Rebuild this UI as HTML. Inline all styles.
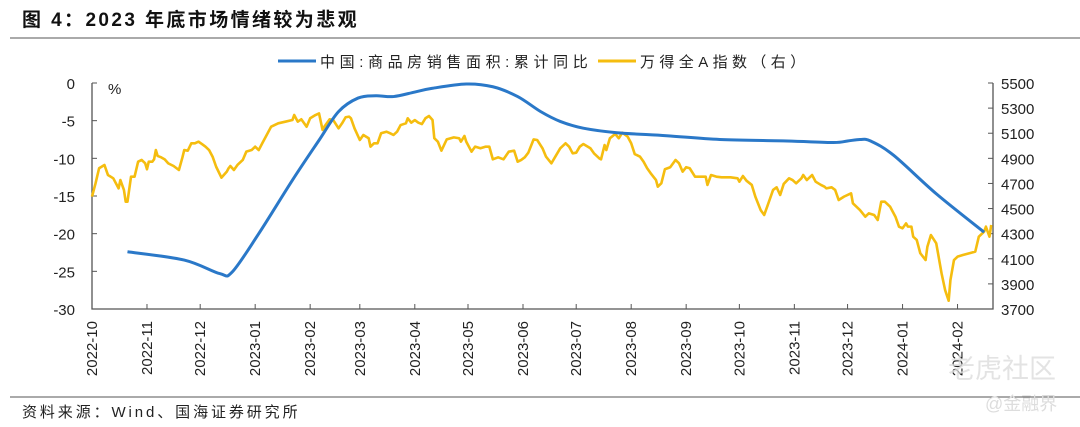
<!DOCTYPE html>
<html><head><meta charset="utf-8"><style>
body{margin:0;background:#fff;}
svg{display:block;font-family:"Liberation Sans","Noto Sans CJK SC",sans-serif;}
</style></head><body>
<svg id="c" width="1080" height="427" viewBox="0 0 1080 427" xmlns="http://www.w3.org/2000/svg">
<text x="22" y="26" font-size="19" font-weight="bold" letter-spacing="2.4" fill="#111">图 4：2023 年底市场情绪较为悲观</text>
<line x1="10" y1="38" x2="1080" y2="38" stroke="#555" stroke-width="1"/>
<line x1="10" y1="397" x2="1080" y2="397" stroke="#555" stroke-width="1"/>
<text x="22" y="417" font-size="15" letter-spacing="2.9" fill="#222">资料来源：Wind、国海证券研究所</text>
<g>
<line x1="278" y1="61" x2="316" y2="61" stroke="#2a78c8" stroke-width="3"/>
<text x="320" y="67" font-size="15" letter-spacing="4.6" fill="#222">中国:商品房销售面积:累计同比</text>
<line x1="598" y1="61" x2="636" y2="61" stroke="#f5bd0f" stroke-width="3"/>
<text x="640" y="67" font-size="15" letter-spacing="4.4" fill="#222">万得全A指数（右）</text>
</g>
<text x="108" y="94" font-size="15" fill="#222">%</text>
<g id="axes"></g>
<g id="marks"></g>
<text x="948" y="378" font-size="27" fill="#ddd" opacity="0.8">老虎社区</text>
<text x="985" y="410" font-size="18" fill="#ddd">@金融界</text>
</svg>
<script>
const monthLabels=["2022-10","2022-11","2022-12","2023-01","2023-02","2023-03","2023-04","2023-05","2023-06","2023-07","2023-08","2023-09","2023-10","2023-11","2023-12","2024-01","2024-02"];
const monthDays=[0,31,61,92,123,151,182,212,243,273,304,335,365,396,426,457,488];
const leftTicks=[0,-5,-10,-15,-20,-25,-30];
const rightTicks=[5500,5300,5100,4900,4700,4500,4300,4100,3900,3700];
const salesDays=[20,52,72,79,94,113,128,139,150,160,170,182,192,211,226,240,253,264,277,296,324,354,392,418,426,433,439,452,476,503];
const salesValues=[-22.4,-23.5,-25.3,-25.1,-20,-12.9,-7.6,-3.8,-2.0,-1.7,-1.8,-1.2,-0.7,-0.13,-0.5,-1.8,-3.8,-5.1,-6.0,-6.6,-7.0,-7.5,-7.7,-7.9,-7.7,-7.5,-7.7,-9.6,-14.7,-19.8];
const indexDays=[0,2,4,7,9,12,15,16,18,19,20,22,24,26,28,30,31,32,34,35,36,37,39,41,43,46,49,51,52,54,56,58,60,62,64,66,68,70,73,76,77,78,80,82,85,87,90,92,94,96,98,101,105,109,113,114,116,118,121,123,126,128,130,131,134,136,139,141,143,145,146,148,151,153,156,157,159,161,163,166,168,170,172,174,177,178,180,182,184,186,188,190,192,193,195,197,200,204,207,208,210,211,214,216,219,222,224,226,229,232,235,238,240,242,244,246,249,251,254,256,259,261,264,267,269,271,273,275,277,281,283,286,287,289,290,292,295,297,299,302,304,306,309,311,313,315,318,319,321,323,326,329,331,333,335,337,340,343,346,347,349,352,355,360,364,365,367,369,372,374,377,379,381,384,386,388,390,393,395,397,400,401,403,406,408,411,413,414,417,419,421,424,428,429,433,436,438,441,443,445,447,450,453,455,457,459,460,462,463,465,467,470,471,473,476,477,479,481,483,484,486,488,491,496,498,500,502,503,504,506,507];
const indexValues=[4595,4701,4821,4847,4767,4741,4661,4727,4648,4555,4555,4754,4754,4873,4887,4860,4813,4873,4873,4892,4966,4919,4908,4892,4860,4839,4807,4908,4966,4961,5020,5020,5033,5014,4993,4966,4913,4833,4746,4794,4821,4839,4807,4847,4887,4953,4966,4993,4966,5020,5073,5152,5179,5192,5205,5245,5192,5211,5152,5219,5245,5258,5126,5152,5211,5205,5139,5179,5227,5232,5219,5139,5046,5086,5060,4993,5020,5020,5100,5112,5100,5086,5112,5165,5179,5219,5184,5205,5184,5173,5219,5237,5205,5060,5033,4961,5051,5067,5060,5033,5078,5033,4953,4993,4980,4993,4993,4892,4908,4892,4953,4961,4873,4887,4908,4945,5051,5046,4980,4913,4860,4908,4980,5020,4993,4940,4945,4993,5014,4980,4940,4900,4892,5006,4966,5060,5094,5060,5104,5073,5020,4934,4913,4873,4821,4781,4727,4674,4701,4813,4829,4887,4860,4794,4829,4821,4754,4754,4754,4688,4767,4754,4749,4749,4741,4714,4759,4722,4688,4595,4488,4449,4528,4648,4669,4608,4696,4741,4727,4701,4741,4767,4727,4767,4714,4688,4674,4661,4669,4648,4568,4595,4621,4542,4488,4435,4462,4449,4409,4555,4555,4515,4435,4356,4343,4382,4356,4356,4276,4250,4144,4090,4196,4289,4223,4144,3984,3851,3766,3931,4090,4117,4130,4149,4157,4276,4303,4316,4356,4276,4369];

const X0=92,X1=993,Y0=83,Y1=309,DMAX=508;
const xs=d=>X0+(X1-X0)*d/DMAX;
const yL=v=>Y0+(Y1-Y0)*(0-v)/30;
const yR=v=>Y0+(Y1-Y0)*(5500-v)/1800;
const NS="http://www.w3.org/2000/svg";
const axes=document.getElementById('axes'),marks=document.getElementById('marks');
function mk(tag,attrs,parent){const e=document.createElementNS(NS,tag);for(const k in attrs)e.setAttribute(k,attrs[k]);parent.appendChild(e);return e;}
let e;
e=mk('path',{d:`M${X0},${Y0} V${Y1} H${X1} V${Y0}`,fill:'none',stroke:'#555','stroke-width':1.3},axes);


leftTicks.forEach(v=>{
  const y=yL(v);
  e=mk('line',{x1:X0,x2:X0+5,y1:y,y2:y,stroke:'#555'},axes);
  
  
  e=mk('text',{x:X0-17,y:y+6,'font-size':15,'text-anchor':'end',fill:'#222'},axes);
  e.textContent=v;
  
  
});
rightTicks.forEach(v=>{
  const y=yR(v);
  e=mk('line',{x1:X1-5,x2:X1,y1:y,y2:y,stroke:'#555'},axes);
  
  
  e=mk('text',{x:X1+8,y:y+6,'font-size':15,fill:'#222'},axes);
  e.textContent=v;
  
  
});
monthDays.forEach((d,i)=>{
  const x=xs(d);
  e=mk('line',{x1:x,x2:x,y1:Y1,y2:Y1-5,stroke:'#555'},axes);
  
  
  e=mk('text',{x:0,y:0,'font-size':15,'text-anchor':'end',fill:'#222',transform:`translate(${x+5},${Y1+12}) rotate(-90)`},axes);
  e.textContent=monthLabels[i];
  
  
});
function smooth(pts){let d=`M${pts[0][0]},${pts[0][1]}`;for(let i=0;i<pts.length-1;i++){const p0=pts[i-1]||pts[i],p1=pts[i],p2=pts[i+1],p3=pts[i+2]||p2;const c1=[p1[0]+(p2[0]-p0[0])/6,p1[1]+(p2[1]-p0[1])/6],c2=[p2[0]-(p3[0]-p1[0])/6,p2[1]-(p3[1]-p1[1])/6];d+=` C${c1[0]},${c1[1]} ${c2[0]},${c2[1]} ${p2[0]},${p2[1]}`;}return d;}
e=mk('path',{d:'M'+indexDays.map((d,i)=>xs(d)+','+yR(indexValues[i])).join(' L'),fill:'none',stroke:'#f5bd0f','stroke-width':2.6,'stroke-linejoin':'round'},marks);


e=mk('path',{d:smooth(salesDays.map((d,i)=>[xs(d),yL(salesValues[i])])),fill:'none',stroke:'#2a78c8','stroke-width':3},marks);


</script>
</body></html>
